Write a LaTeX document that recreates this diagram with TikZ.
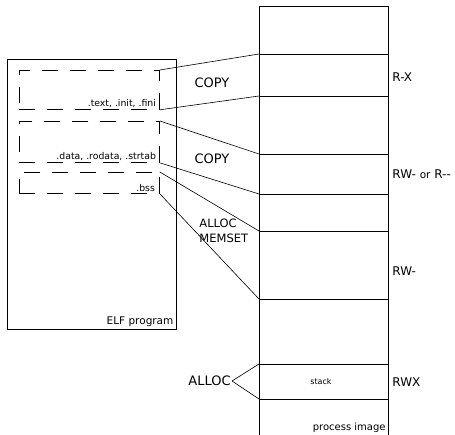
\documentclass[tikz,border=0pt]{standalone}
\usepackage{fontspec}
\setmainfont{DejaVu Sans}
\usetikzlibrary{positioning}

\tikzset{
  sect/.style={draw, dash pattern=on 16pt off 12pt, anchor=north west, inner sep=0pt, minimum width=140pt},
  seclabel/.style={font=\fontsize{9.3}{11}\selectfont, anchor=south east, inner sep=1.5pt},
  oplabel/.style={font=\fontsize{13}{15}\selectfont},
  permlabel/.style={font=\fontsize{12}{14}\selectfont, anchor=west, inner sep=0pt},
  link/.style={line width=0.6pt},
}

\begin{document}
\begin{tikzpicture}[x=1pt, y=-1pt, line width=0.8pt]
  \useasboundingbox (0,0) rectangle (455,435);
  % ELF program and its sections
  \node[draw, anchor=north west, minimum width=169pt, minimum height=270pt, inner sep=0pt] (elf) at (7,59) {};
  \node[anchor=south east, inner sep=3pt, font=\fontsize{10.5}{12}\selectfont] (elfname) at (elf.south east) {ELF program};
  \node[sect, minimum height=39pt] (text) at (19,70) {};
  \node[sect, minimum height=41pt] (data) at (19,121) {};
  \node[sect, minimum height=21pt] (bss) at (19,172) {};
  \node[seclabel] (textname) at ([xshift=-2pt]text.south east) {.text, .init, .fini};
  \node[seclabel] (dataname) at ([xshift=-2pt]data.south east) {.data, .rodata, .strtab};
  \node[seclabel] (bssname) at ([xshift=-3pt]bss.south east) {.bss};
  % process image
  \draw (259,435) |- (388,6) -- (388,435);
  \coordinate (b1) at (259,54);
  \coordinate (b2) at (259,96);
  \coordinate (b3) at (259,154);
  \coordinate (b4) at (259,194);
  \coordinate (b5) at (259,231);
  \coordinate (b6) at (259,299);
  \coordinate (b7) at (259,364);
  \coordinate (b8) at (259,399);
  \foreach \b in {b1,b2,b3,b4,b5,b6,b7,b8}
    \draw (\b) -- ++(129,0);
  \node[font=\fontsize{8}{10}\selectfont] (stack) at (321,382) {stack};
  \node[anchor=south east, inner sep=2pt, font=\fontsize{10}{12}\selectfont] (procname) at (388,435) {process image};
  % permissions
  \node[permlabel] (rx) at (392,77) {R-X};
  \node[permlabel] (rwr) at (392,174) {RW- {\fontsize{10.5}{14}\selectfont or} R-{}-};
  \node[permlabel] (rw) at (392,271) {RW-};
  \node[permlabel] (rwx) at (392,382) {RWX};
  % mappings
  \draw[link] (text.north east) -- (b1);
  \draw[link] (text.south east) -- (b2);
  \draw[link] (data.north east) -- (b3);
  \draw[link] (data.south east) -- (b4);
  \draw[link] (bss.north east) -- (b5);
  \draw[link] (bss.south east) -- (b6);
  \node[oplabel] (copy1) at (212,83) {COPY};
  \node[oplabel] (copy2) at (212,159) {COPY};
  \node[align=left, anchor=west, inner sep=0pt, font=\fontsize{11.5}{15}\selectfont] (allocset) at (199,230.5) {ALLOC\\MEMSET};
  \node[oplabel, anchor=east, inner sep=1pt] (alloc) at (232,381) {ALLOC};
  \draw[link] (alloc.east) -- (b7);
  \draw[link] (alloc.east) -- (b8);
\end{tikzpicture}
\end{document}
